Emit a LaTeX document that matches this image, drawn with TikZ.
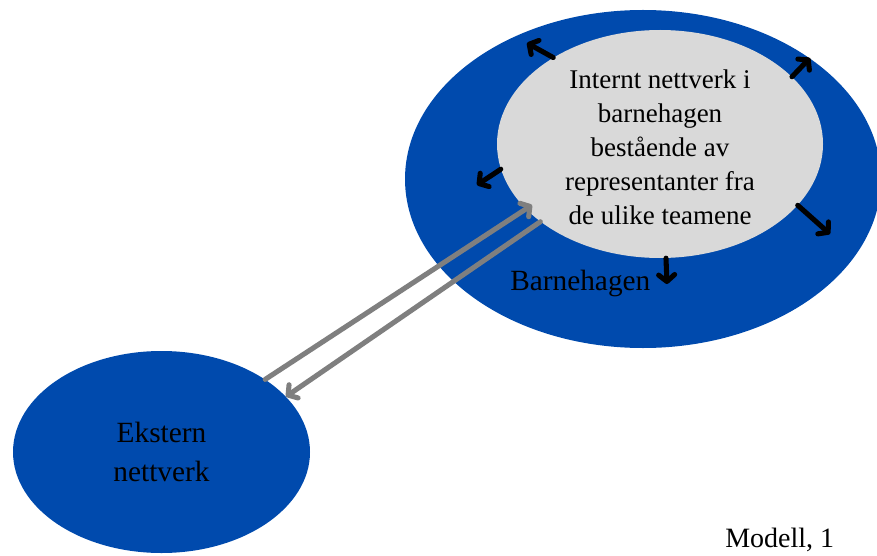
\documentclass[tikz,border=0pt]{standalone}
\usepackage{fontspec}
\setmainfont{Liberation Serif}
\usetikzlibrary{shapes.geometric,arrows.meta}
\definecolor{modelBlue}{RGB}{0,74,173}
\definecolor{innerGray}{RGB}{217,217,217}
\definecolor{linkGray}{RGB}{127,127,127}
\tikzstyle{blobStyle}=[shape = ellipse, inner sep = 0pt, fill = modelBlue]
\tikzstyle{innerStyle}=[shape = ellipse, inner sep = 0pt, fill = innerGray]

\begin{document}
\begin{tikzpicture}[x = 0.75pt, y = -0.75pt]
\tikzstyle{radialArrow}=[line width = 3.8pt, line cap = round, -{Straight Barb[length = 5pt, width = 12pt, round]}]
\tikzstyle{linkArrow}=[line width = 3.8pt, linkGray, line cap = round, -{Straight Barb[length = 5pt, width = 12pt, round]}]
\tikzstyle{textStyle}=[inner sep = 0pt, align = center]
\useasboundingbox (0,0) rectangle (877,556);
% ellipses
\node[blobStyle, minimum width = 357pt, minimum height = 253.5pt] (bhg) at (643,179) {};
\node[innerStyle, minimum width = 244.5pt, minimum height = 171pt] (intern) at (660,144) {};
\node[blobStyle, minimum width = 222.75pt, minimum height = 151.5pt] (ext) at (161.5,452) {};
% texts
\node[textStyle, font = \fontsize{20.25}{25.5}\selectfont] (internText) at (660,147) {Internt nettverk i\\barnehagen\\bestående av\\representanter fra\\de ulike teamene};
\node[textStyle, font = \fontsize{22}{29.5}\selectfont] (extText) at (ext.center) {Ekstern\\nettverk};
\node[textStyle, font = \fontsize{22}{26}\selectfont, anchor = base west] (bhgText) at (510,290) {Barnehagen};
\node[textStyle, font = \fontsize{21}{25}\selectfont, anchor = base west] (modelText) at (725,547) {Modell, 1};
% free ends
\coordinate (tipNW) at (527,43);
\coordinate (tipNE) at (810,58);
\coordinate (tipW) at (477,185);
\coordinate (tipSE) at (830,234);
\coordinate (tipS) at (667,284);
\coordinate (tipIn) at (532,205);
% links
\draw[linkArrow] (ext.35) -- (tipIn);
\draw[linkArrow] (intern.213.7) -- (ext.24);
\draw[radialArrow] (intern.141.2) -- (tipNW);
\draw[radialArrow] (intern.27.1) -- (tipNE);
\draw[radialArrow] (intern.189.9) -- (tipW);
\draw[radialArrow] (intern.336.8) -- (tipSE);
\draw[radialArrow] (intern.273.5) -- (tipS);
\end{tikzpicture}
\end{document}
